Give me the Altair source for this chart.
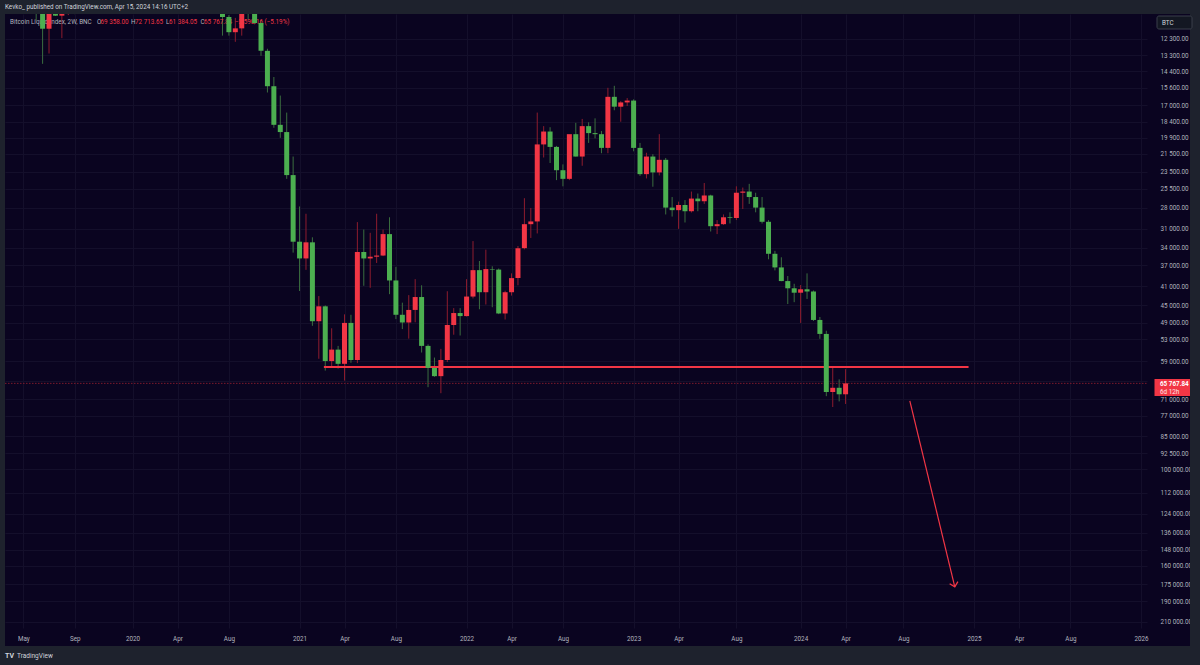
import altair as alt
import pandas as pd

# ---------------- data (2W candles, Bitcoin Liquid Index, BNC) ----------------
bar_dates = pd.date_range("2019-04-15", periods=131, freq="14D").strftime("%Y-%m-%d").tolist()

opens = [5070, 5270, 6970, 8740, 7650, 10850, 11700, 10550, 10980, 10300, 9600, 10350, 8050, 8300, 9550, 8800, 7000, 7500, 7500,
         7350, 8900, 9350, 9900, 8550, 5350, 6400, 6900, 7700, 8750, 9150, 9650, 9300, 9050, 9150, 11050, 11900, 11680, 10330, 10780, 11380, 13030, 15480, 18680, 19350, 23860,
         33000, 35800, 33100, 48600, 45200, 59000, 55800, 59800, 49000, 58700, 34700, 35800, 35500, 35300, 31800, 39850, 47100, 48900, 46000, 43200, 54800, 61000, 63500, 58700, 49500, 46700,
         47400, 43100, 37900, 42200, 37700, 37800, 46800, 42200, 39400, 34050, 30300, 29900, 20550, 19300, 20800, 23300, 24300, 19550, 21800, 18800, 19450, 19550, 20900, 16300, 17100, 16750,
         16600, 20900, 23750, 21800, 23550, 22150, 27950, 28300, 27600, 28450, 26750, 27100, 26350, 30600, 30300, 29300, 29400, 26000, 25850, 26550, 27950, 29950, 35000, 37400, 39970, 41400,
         42300, 41600, 42050, 48300, 51700, 68600, 67200, 69358]
highs = [5620, 7500, 8350, 9100, 11250, 13880, 13200, 11000, 12250, 10950, 10900, 10350, 8820, 10540, 9900, 9000, 7880, 7700, 7700,
         9200, 9550, 10500, 10250, 9200, 6950, 7450, 7800, 9950, 9950, 10400, 10000, 9800, 9450, 12100, 12100, 12470, 12100, 11180, 11450, 13350, 15960, 18950, 19900, 24300, 34800,
         41950, 37850, 49700, 58350, 61800, 60600, 61200, 64900, 59500, 59600, 40900, 41300, 36600, 35400, 42600, 48100, 50500, 52900, 48850, 56600, 67000, 63700, 69000, 59300, 51900, 52100,
         47500, 43500, 45850, 44800, 45400, 46950, 48200, 42900, 40800, 34250, 32400, 31700, 21900, 22500, 24450, 25200, 24450, 21800, 22800, 20400, 19950, 21450, 21450, 17400, 18400, 17050,
         21250, 23950, 24250, 25250, 23900, 28900, 29200, 31000, 30050, 28630, 28450, 27450, 31400, 31800, 30400, 30200, 29700, 28150, 27450, 28600, 30200, 35950, 37950, 40000, 44700, 44300,
         49000, 43600, 48550, 52950, 70000, 73800, 71800, 72713.65]
lows = [4980, 5170, 6700, 7450, 7550, 10300, 9100, 9100, 9500, 9350, 9600, 7700, 7700, 7300, 8650, 6800, 6500, 6430, 6850,
        7350, 8250, 9150, 8450, 3800, 4450, 5850, 6450, 7650, 8100, 8650, 8950, 8850, 9050, 9100, 10950, 11100, 9880, 10140, 10370, 11200, 12900, 14800, 16200, 17600, 21800,
        27800, 28800, 32300, 43000, 45000, 50300, 54800, 47000, 47100, 30000, 31100, 31600, 28800, 31100, 29300, 37300, 44400, 42800, 39600, 40800, 54400, 58000, 55600, 42000, 45600, 45600,
        39600, 32900, 36250, 34300, 37200, 37600, 41900, 38500, 33700, 26700, 28000, 17600, 18800, 18900, 20700, 22650, 19800, 18500, 18150, 18450, 18100, 19250, 15600, 15450, 16650, 16400,
        16500, 20400, 21400, 21550, 19550, 21950, 26550, 27150, 26950, 25850, 26100, 24800, 26250, 29700, 28900, 28600, 25200, 25350, 24900, 26000, 26550, 29700, 34500, 35600, 39000, 40500,
        40750, 38500, 41850, 47600, 50900, 60800, 64500, 61384.05]
closes = opens[1:] + [65767.84]

support_price = [60700]
support_from = ["2021-02-26"]
support_to = ["2025-01-01"]

arrow_from_date = ["2024-08-26"]
arrow_from_price = [71600]
arrow_to_date = ["2024-12-02"]
arrow_to_price = [177100]

x_tick_dates = ["2019-05-13", "2019-09-02", "2020-01-06", "2020-04-13", "2020-08-03", "2021-01-04", "2021-04-12",
                "2021-08-02", "2022-01-03", "2022-04-11", "2022-08-01", "2023-01-02", "2023-04-10", "2023-08-14",
                "2024-01-01", "2024-04-08", "2024-08-12", "2025-01-13", "2025-04-21", "2025-08-11", "2026-01-12"]
y_ticks = [12300, 13300, 14400, 15600, 17000, 18400, 19900, 21500, 23500, 25500, 28000, 31000, 34000, 37000,
           41000, 45000, 49000, 53000, 59000, 65000, 71000, 77000, 85000, 92500, 100000, 112000, 124000, 136000,
           148000, 160000, 175000, 190000, 210000]
hidden_tick = 65000  # label covered by the last-price tag

# ---------------- styling ----------------
FONT = "Roboto"
BG = "#0a0420"
CHROME = "#1e222d"
GREEN = "#4caf50"
RED = "#f23645"
GREEN_WICK = "#3b6e3f"
RED_WICK = "#8e1c2e"
LABEL = "#b2b5be"
GRID = "#140f2b"
W, H = 1142, 614


def ms(s):
    return int(pd.Timestamp(s, tz="UTC").value // 10**6)


df = pd.DataFrame(dict(date=bar_dates, open=opens, high=highs, low=lows, close=closes))
last = df.iloc[[-1]].copy()

xs = alt.Scale(type="utc", domain=[ms("2019-04-13 22:48"), ms("2026-01-14")], nice=False)
ys = alt.Scale(type="log", domain=[10891, 216400], reverse=True, nice=False, zero=False)

x_axis = alt.Axis(
    values=[alt.DateTime(year=int(d[:4]), month=int(d[5:7]), date=int(d[8:]), utc=True) for d in x_tick_dates],
    labelExpr="utcmonth(datum.value) == 0 ? utcFormat(datum.value, '%Y') : utcFormat(datum.value, '%b')",
    title=None, grid=True, gridColor=GRID, ticks=False, domain=False, labelFlush=False, labelBound=False,
    labelOverlap=False, labelColor=LABEL, labelFont=FONT, labelFontSize=6.3, labelPadding=7,
)
y_axis = alt.Axis(
    orient="right", values=y_ticks,
    labelExpr=f"datum.value == {hidden_tick} ? '' : replace(format(datum.value, ',.2f'), ',', ' ')",
    title=None, grid=True, gridColor=GRID, ticks=False, domain=False, labelOverlap=False,
    labelColor=LABEL, labelFont=FONT, labelFontSize=6.3, labelPadding=13,
)


def X(field):
    return alt.X(field, scale=xs, axis=x_axis)


def Y(field):
    return alt.Y(field, scale=ys, axis=y_axis)


up = "datum.close >= datum.open"
one = pd.DataFrame({"k": [0]})


def box(x1, x2, y1, y2, color, **kw):
    return alt.Chart(one).mark_rect(color=color, **kw).encode(
        x=alt.value(x1), x2=alt.value(x2), y=alt.value(y1), y2=alt.value(y2))


def txt(s, px, py, color, size=6.3, weight="normal"):
    return alt.Chart(one).mark_text(text=s, align="left", baseline="middle", font=FONT, fontSize=size,
                                    fontWeight=weight, color=color).encode(x=alt.value(px), y=alt.value(py))


def fmt(v):
    return f"{v:,.2f}".replace(",", " ")


wicks = alt.Chart(df).mark_rule(strokeWidth=1, clip=True).encode(
    x=X("date:T"), y=Y("low:Q"), y2="high:Q",
    color=alt.condition(up, alt.value(GREEN_WICK), alt.value(RED_WICK)),
)
bodies = alt.Chart(df).mark_bar(size=5, clip=True).encode(
    x=X("date:T"), y=Y("open:Q"), y2="close:Q",
    color=alt.condition(up, alt.value(GREEN), alt.value(RED)),
)

price_line = alt.Chart(last).mark_rule(color="#7d1a2c", strokeDash=[1.5, 1.5], strokeWidth=1).encode(
    y=Y("close:Q"), x=alt.value(0), x2=alt.value(W))

sup = pd.DataFrame(dict(d1=support_from, d2=support_to, p=support_price))
support = alt.Chart(sup).mark_rule(color=RED, strokeWidth=2, clip=True).encode(
    x=X("d1:T"), x2="d2:T", y=Y("p:Q"))

arr = pd.DataFrame(dict(d1=arrow_from_date, p1=arrow_from_price, d2=arrow_to_date, p2=arrow_to_price))
arrow_line = alt.Chart(arr).mark_rule(color=RED, strokeWidth=1.2).encode(
    x=X("d1:T"), y=Y("p1:Q"), x2="d2:T", y2="p2:Q")
arrow_head = alt.Chart(arr).mark_point(shape="M-1,-1L0,0L1,-1", filled=False, size=72, angle=346,
                                        color=RED, strokeWidth=1.3, opacity=1).encode(
    x=X("d2:T"), y=Y("p2:Q"))

tag = alt.Chart(last).mark_point(shape="M-1,-0.472L1,-0.472L1,0.472L-1,0.472Z", filled=True, size=1296,
                                 color=RED, opacity=1, strokeWidth=0, yOffset=4.1).encode(
    x=alt.value(1167.5), y=Y("close:Q"))
tag_price = alt.Chart(last).mark_text(text=fmt(closes[-1]), align="left", baseline="middle", font=FONT,
                                      fontSize=6.3, fontWeight="bold", color="#ffffff", yOffset=0.6).encode(
    x=alt.value(1155), y=Y("close:Q"))
tag_time = alt.Chart(last).mark_text(text="6d 12h", align="left", baseline="middle", font=FONT,
                                     fontSize=6.3, color="#ffe3e6", yOffset=8.3).encode(
    x=alt.value(1155), y=Y("close:Q"))

chg = "\u22123 590.16 (\u22125.19%)"
legend = [
    txt("Bitcoin Liquid Index, 2W, BNC", 5, 8, LABEL),
    txt("O", 92, 8, LABEL), txt(fmt(opens[-1]), 95.5, 8, RED),
    txt("H", 126, 8, LABEL), txt(fmt(highs[-1]), 130, 8, RED),
    txt("L", 161, 8, LABEL), txt(fmt(lows[-1]), 164, 8, RED),
    txt("C", 195.5, 8, LABEL), txt(fmt(closes[-1]), 199, 8, RED),
    txt(chg, 230, 8, RED),
]

chrome = [
    box(-5, 1195, -14, 0, CHROME),
    box(-5, 1195, 632, 651, CHROME),
    box(-5, 0, -14, 651, CHROME),
    box(1185, 1195, -14, 651, CHROME),
    box(1152, 1187, 2, 15, "#131722", stroke="#3a3e4a", strokeWidth=1, cornerRadius=2),
    txt("BTC", 1157, 8.7, "#d1d4dc"),
    txt("Kevko_  published on TradingView.com, Apr 15, 2024 14:16 UTC+2", 0, -7, "#d1d4dc"),
    txt("TV", 0, 642, "#d1d4dc", size=7, weight="bold"),
    txt("TradingView", 12, 642, "#d1d4dc", size=6.5),
]

chart = alt.layer(
    wicks, *legend, price_line, support, bodies, arrow_line, arrow_head, tag, tag_price, tag_time, *chrome
).properties(
    width=W, height=H,
    padding={"left": 5, "top": 14, "right": 53, "bottom": 37},
    autosize=alt.AutoSizeParams(type="none"),
    background=BG,
).configure_view(strokeWidth=0, fill=BG)

chart.save("out.html", embed_options={"renderer": "svg", "actions": False})
